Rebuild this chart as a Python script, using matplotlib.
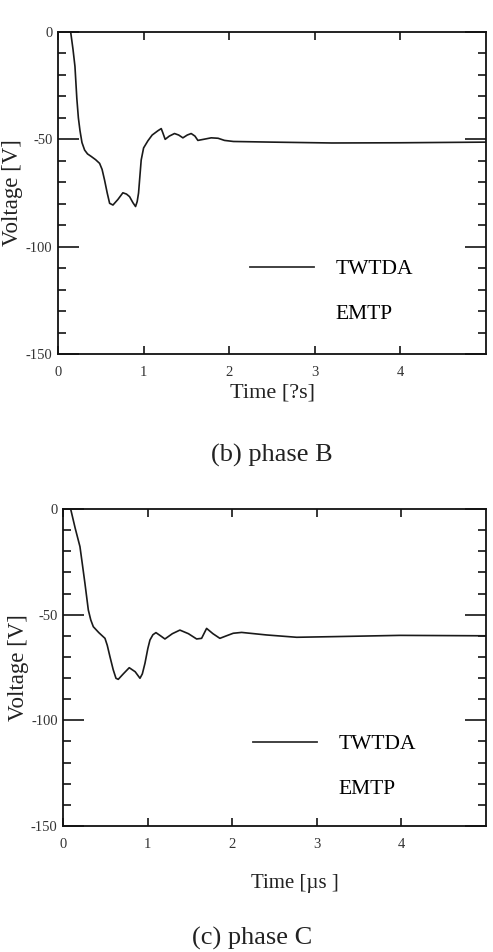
import matplotlib
matplotlib.use("Agg")
import matplotlib.pyplot as plt
from matplotlib.lines import Line2D
from matplotlib.ticker import MultipleLocator, FixedLocator

plt.rcParams['font.family'] = ['Liberation Serif', 'DejaVu Serif']
plt.rcParams['axes.unicode_minus'] = False

# ---- data (phase B) ----
t_b = [0.148, 0.175, 0.198, 0.22, 0.238, 0.257, 0.28, 0.311, 0.345, 0.389, 0.44,
       0.486, 0.515, 0.544, 0.575, 0.603, 0.642, 0.70, 0.758, 0.80, 0.836, 0.875,
       0.906, 0.925, 0.941, 0.955, 0.972, 1.0, 1.05, 1.1, 1.167, 1.206, 1.225,
       1.252, 1.30, 1.361, 1.41, 1.459, 1.51, 1.556, 1.60, 1.634, 1.70, 1.79,
       1.87, 1.945, 2.05, 2.5, 3.2, 4.0, 5.0]
v_b = [0, -8, -16, -31, -40, -46, -51.5, -55, -56.8, -58, -59.5,
       -61.2, -64, -69, -75, -79.8, -80.6, -78, -74.9, -75.5, -76.7, -79.5,
       -81.3, -79, -75, -68, -59.6, -54, -50.7, -48, -46, -45, -47,
       -50, -48.5, -47.3, -48, -49.3, -48, -47.3, -48.5, -50.5, -50, -49.3,
       -49.5, -50.5, -51, -51.3, -51.7, -51.6, -51.3]

# ---- data (phase C) ----
t_c = [0.087, 0.14, 0.197, 0.225, 0.256, 0.296, 0.325, 0.355, 0.42, 0.493, 0.52,
       0.552, 0.59, 0.623, 0.65, 0.71, 0.78, 0.85, 0.907, 0.935, 0.966, 1.0,
       1.025, 1.06, 1.096, 1.15, 1.202, 1.29, 1.379, 1.48, 1.577, 1.636, 1.695,
       1.77, 1.852, 1.93, 2.01, 2.109, 2.404, 2.76, 3.19, 3.98, 5.0]
v_c = [0, -9, -17.8, -26, -35.2, -47.8, -52.5, -55.7, -58.5, -61.2, -64.5,
       -69.9, -76, -80.1, -80.6, -78, -75.1, -77, -80.1, -78, -73, -66,
       -62, -59.5, -58.5, -60, -61.5, -59, -57.3, -59, -61.5, -61.2, -56.5,
       -59, -61.2, -60, -58.8, -58.4, -59.6, -60.7, -60.4, -59.8, -60.0]

x_ticks = [0, 1, 2, 3, 4]
x_ticklabels = ["0", "1", "2", "3", "4"]
y_ticks = [0, -50, -100, -150]
y_ticklabels = ["0", "-50", "-100", "-150"]
legend_labels = ["TWTDA", "EMTP"]

W, H = 493, 952
fig = plt.figure(figsize=(W / 100, H / 100), dpi=100)

def px_axes(l, t, r, b):
    return fig.add_axes([l / W, 1 - b / H, (r - l) / W, (b - t) / H])

ax1 = px_axes(58, 32, 486, 354)
ax2 = px_axes(63.3, 509, 486, 826)

def style(ax, t, v, xlabel, xlab_x, xlab_y, xlab_fs, leg_x, leg_y):
    ax.plot(t, v, color='#1a1a1a', lw=1.2)
    ax.set_xlim(0, 5)
    ax.set_ylim(-150, 0)
    ax.xaxis.set_major_locator(FixedLocator(x_ticks))
    ax.set_xticklabels(x_ticklabels)
    ax.yaxis.set_major_locator(FixedLocator(y_ticks))
    ax.set_yticklabels(y_ticklabels)
    ax.yaxis.set_minor_locator(MultipleLocator(10))
    for s in ax.spines.values():
        s.set_linewidth(1.3)
        s.set_color('#111111')
    ax.tick_params(axis='y', which='major', direction='in', length=15, width=1.1,
                   left=True, right=True, labelsize=10.5, pad=4, labelcolor='#333333')
    ax.tick_params(axis='y', which='minor', direction='in', length=6, width=1.1,
                   left=True, right=True)
    ax.tick_params(axis='x', which='major', direction='in', length=6, width=1.1,
                   top=True, bottom=True, labelsize=10.5, pad=9, labelcolor='#333333')
    ax.set_ylabel("Voltage [V]", fontsize=16.5, va='center', color='#222222')
    ax.yaxis.set_label_coords(-0.107, 0.5)
    ax.set_xlabel(xlabel, fontsize=xlab_fs, va='center', color='#222222')
    ax.xaxis.set_label_coords(xlab_x, xlab_y)
    handles = [Line2D([], [], color='#333333', lw=1.3),
               Line2D([], [], color='none')]
    ax.legend(handles, legend_labels, loc='upper left', bbox_to_anchor=(leg_x, leg_y),
              frameon=False, fontsize=15.5, borderpad=0, borderaxespad=0,
              handlelength=2.98, handletextpad=1.0, labelspacing=1.15)

style(ax1, t_b, v_b, "Time [?s]", 0.5, -0.121, 16, 0.449, 0.295)
style(ax2, t_c, v_c, "Time [\u00b5s ]", 0.548, -0.18, 15, 0.449, 0.29)

fig.text(272 / W, 1 - 455 / H, "(b) phase B", fontsize=19, ha='center', va='center',
         color='#222222')
fig.text(252 / W, 1 - 938 / H, "(c) phase C", fontsize=19, ha='center', va='center',
         color='#222222')

fig.savefig("out.png", dpi=100)
